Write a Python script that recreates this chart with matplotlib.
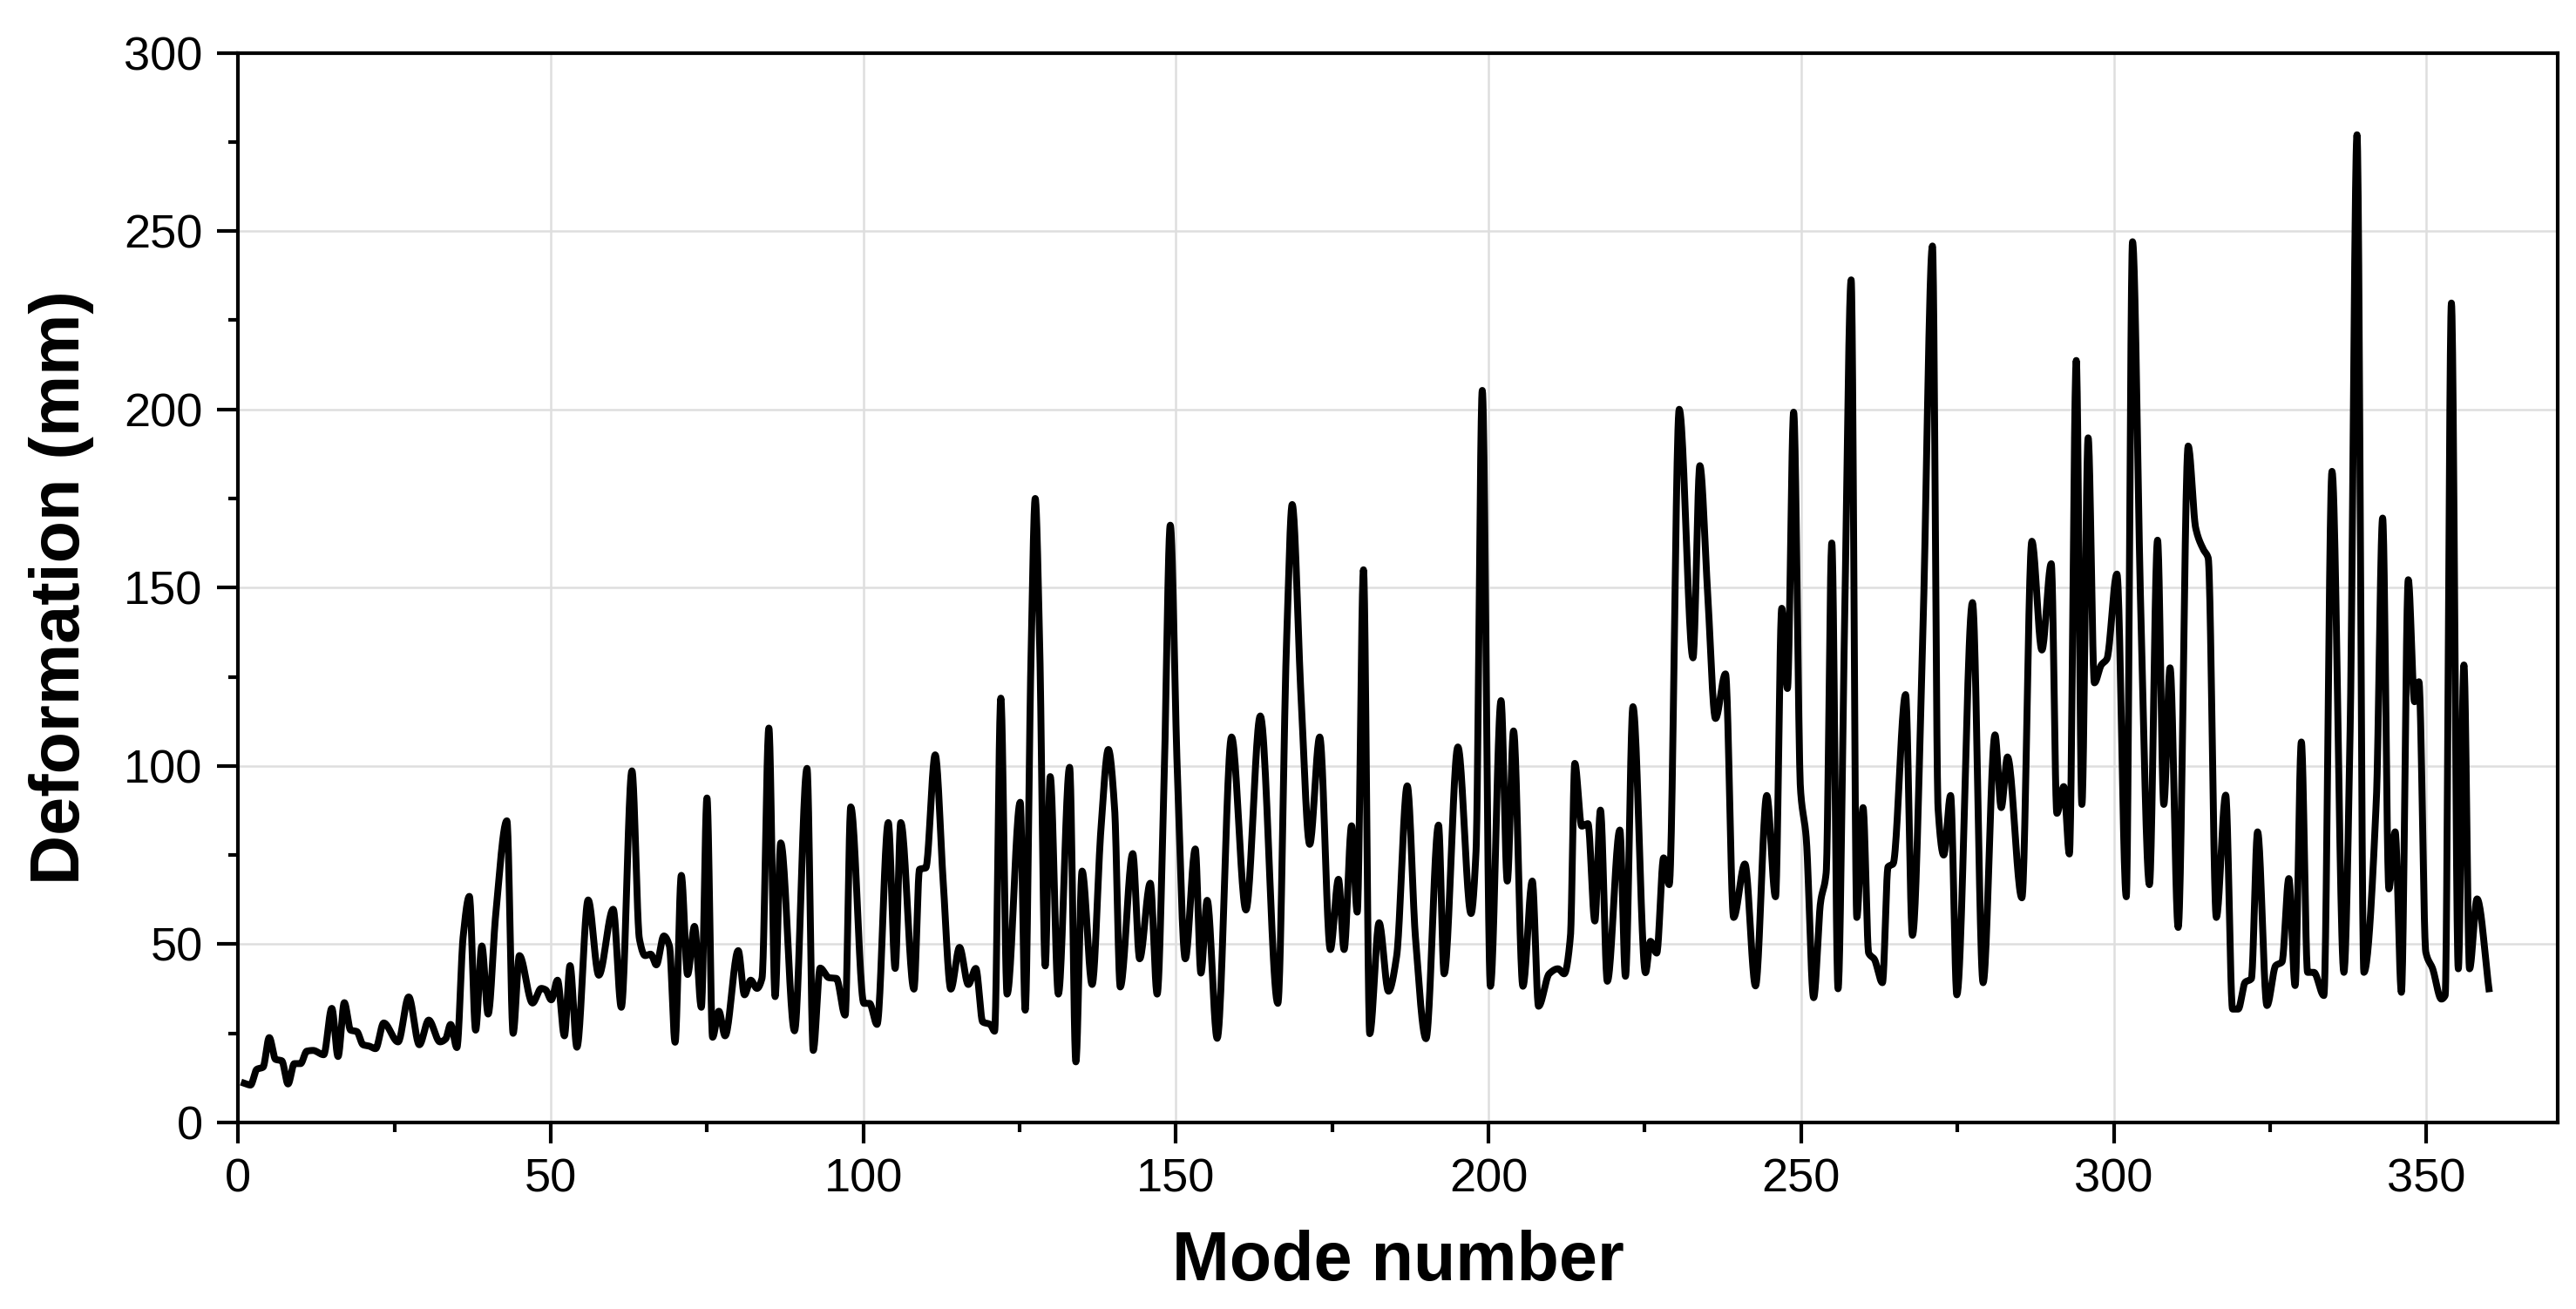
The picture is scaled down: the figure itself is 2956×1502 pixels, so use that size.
import numpy as np
import matplotlib
matplotlib.use("Agg")
import matplotlib.pyplot as plt
from matplotlib.ticker import MultipleLocator

# ---- data (mode number, deformation in mm) ----
mode = [1, 2, 3, 4, 5, 6, 7, 8, 9, 10, 11, 12, 13.7, 15, 16, 17, 18, 19, 20, 21, 22,
        23.3, 25.6, 27.3, 29, 30.5, 32.3, 33.2, 34, 35, 36, 37, 38, 39, 40, 41.2, 43,
        44, 45, 47.1, 48.5, 49.2, 50.1, 51.1, 52.2, 53.1, 54.2, 56, 57.7, 60, 61.3, 63,
        64.2, 65.1, 66, 66.9, 68.1, 69, 69.9, 70.9, 71.9, 73, 74.1, 75, 75.9, 76.9, 77.9,
        80, 81, 82, 83, 83.8, 84.9, 85.9, 86.8, 89, 91, 92, 93.1, 94.5, 95.7, 97.1, 98,
        100.1, 101, 102.2, 104, 105.1, 106, 108.1, 109, 110, 111.5, 112.8, 114, 115.4,
        116.8, 118, 119.1, 120.3, 121, 122, 123, 125.1, 125.9, 126.8, 127.5, 128.2,
        129.1, 129.9, 131.2, 133, 134, 135, 136.6, 138, 139.2, 140.2, 141.1, 143.1,
        144.2, 145.9, 147, 148.1, 149.1, 150.2, 151.5, 153.1, 154, 155, 156.6, 158.9,
        161.2, 163.5, 166.3, 167.7, 168.6, 170, 171.4, 173, 174.7, 176, 176.9, 178.1,
        179, 180, 181, 182.5, 184, 185.3, 187, 188.3, 190, 192, 192.9, 195.1, 197.2,
        198, 199, 200.3, 202, 203, 204, 205.5, 207, 208, 209.7, 211.1, 212.1, 213.1,
        213.8, 214.9, 215.9, 217, 217.9, 219, 221, 221.9, 223.1, 225.1, 225.9, 226.9,
        228, 228.9, 230.5, 232.7, 233.8, 235, 236.3, 237.9, 239.2, 241, 242.7, 244.5,
        245.9, 246.9, 247.8, 248.8, 249.9, 250.8, 252, 253.1, 254, 254.9, 255.9, 256.9,
        258, 258.9, 259.9, 260.8, 261.7, 263, 263.9, 264.7, 266.7, 267.8, 269.5, 271,
        271.9, 272.8, 273.9, 274.9, 277.4, 279.1, 281, 282, 283, 285.3, 286.9, 288.5,
        290, 290.9, 292, 292.9, 294, 294.9, 295.9, 296.9, 298, 298.9, 300.5, 302, 303,
        304.3, 305.7, 307, 308, 309, 310.3, 311.9, 313.1, 314.3, 315.1, 316.4, 317.9,
        319, 319.9, 321, 322, 323, 324.5, 325.9, 326.9, 328, 329, 330, 331, 332, 333.6,
        334.9, 336.8, 337.8, 338.9, 340, 342, 343, 344, 345, 346, 347.1, 348.1, 348.8,
        349.9, 351, 352.4, 353, 354, 355.1, 356, 356.9, 358.1, 360]

deformation = [11, 10.5, 14.9, 15.5, 23.8, 17.7, 17.3, 10.8, 16.5, 16.5, 20, 20.2, 19, 32,
               18.5, 33.6, 25.9, 25.5, 21.8, 21.4, 20.7, 27.9, 22.6, 35.2, 21.8, 28.7,
               22.6, 23.4, 27.5, 21, 52, 63.4, 25.9, 49.5, 30.4, 58, 84.6, 25, 46.8, 33.5,
               37.6, 37.2, 34.4, 39.9, 24.3, 44, 21.1, 62.4, 41.3, 59.8, 32.3, 98.6, 51.4,
               46.8, 47.2, 44.2, 52.3, 49.5, 22.5, 69.3, 41.5, 55, 32.3, 91, 23.9, 31.2,
               24.3, 48.2, 35.8, 39.9, 37.6, 40.4, 110.6, 35.3, 78.4, 25.7, 99.3, 20.2,
               43.3, 40.6, 40.4, 30.1, 88.5, 33.4, 33.4, 27.5, 84.1, 43.2, 84.1, 37.4, 71,
               71.4, 103.1, 67, 37.4, 49.1, 38.7, 43.2, 28.2, 27.5, 25.6, 119, 36, 89.8,
               31.5, 128, 175, 135, 43.9, 97, 36, 99.6, 17, 70.5, 38.7, 82, 104.6, 88, 38,
               75.4, 45.9, 67.1, 36, 95, 167.5, 100, 45.9, 76.7, 41.9, 62.3, 23.6, 108.1,
               59.6, 114, 33.4, 135, 173.3, 120, 78, 108.1, 48.5, 68.2, 48.5, 83.2, 59,
               155, 24.9, 56, 36.8, 46.6, 94.4, 52.2, 23.5, 83.4, 41.7, 105.3, 58.6, 76,
               205.3, 38.2, 118.3, 67.7, 109.8, 38.2, 67.7, 32.6, 41.7, 43.1, 41.7, 52.2,
               100.7, 83.1, 83.8, 56.5, 87.6, 39.6, 82, 41, 116.6, 42, 50.8, 47.5, 74.2,
               66.7, 200, 130.3, 184.2, 150, 113.3, 125.8, 57.5, 72.5, 38.3, 91.7, 63.3,
               144.2, 121.7, 199.2, 93.3, 80, 35, 61.7, 70, 162.5, 37.5, 135, 236.3, 57.5,
               88.3, 47.5, 45.8, 39.2, 71.7, 72.5, 120, 52.5, 140, 245.8, 88, 75, 91.7,
               35.8, 145.8, 39.2, 108.7, 88.3, 102.5, 63, 163, 132.5, 156.7, 86.7, 94.2,
               75.3, 213.7, 89.2, 192, 123.3, 128.3, 130, 153.8, 63.3, 247, 145, 66.7,
               163.3, 89.2, 127.5, 54.7, 189.7, 166.7, 160.8, 158.3, 57.5, 91.8, 31.8,
               31.8, 39.3, 40.3, 81.5, 32.8, 44, 45, 68.4, 38.4, 106.7, 42.1, 42.1, 35.6,
               182.6, 42.1, 110, 277, 42.1, 90.8, 169.5, 65.5, 81.5, 36.5, 152.2, 118,
               123.6, 47.8, 43.1, 34.6, 35.6, 229.8, 43.1, 128.3, 43.1, 62.7, 37.5]

x_ticks = [0, 50, 100, 150, 200, 250, 300, 350]
y_ticks = [0, 50, 100, 150, 200, 250, 300]
x_label = "Mode number"
y_label = "Deformation (mm)"


def smooth_line(x, y, n=24):
    """Monotone cubic (PCHIP-style) rendering of the line through the read points."""
    x = np.asarray(x, float)
    y = np.asarray(y, float)
    h = np.diff(x)
    delta = np.diff(y) / h
    d = np.zeros_like(y)
    for k in range(1, len(x) - 1):
        if delta[k - 1] * delta[k] > 0:
            w1 = 2 * h[k] + h[k - 1]
            w2 = h[k] + 2 * h[k - 1]
            d[k] = (w1 + w2) / (w1 / delta[k - 1] + w2 / delta[k])
    d[0] = delta[0]
    d[-1] = delta[-1]
    xs, ys = [], []
    t = np.linspace(0, 1, n, endpoint=False)
    h00 = 2 * t**3 - 3 * t**2 + 1
    h10 = t**3 - 2 * t**2 + t
    h01 = -2 * t**3 + 3 * t**2
    h11 = t**3 - t**2
    for k in range(len(x) - 1):
        xs.append(x[k] + t * h[k])
        ys.append(h00 * y[k] + h10 * h[k] * d[k] + h01 * y[k + 1] + h11 * h[k] * d[k + 1])
    xs.append([x[-1]])
    ys.append([y[-1]])
    return np.concatenate(xs), np.concatenate(ys)


plt.rcParams['font.family'] = ['Liberation Sans', 'DejaVu Sans']

fig = plt.figure(figsize=(2956 / 300, 1502 / 300), dpi=300)
ax = fig.add_axes([0.0924, 0.1425, 0.9005, 0.8172])

sx, sy = smooth_line(mode, deformation)
ax.plot(sx, sy, color='black', lw=1.9, solid_joinstyle='round', zorder=3)

ax.set_xlim(0, 371)
ax.set_ylim(0, 300)
ax.set_xticks(x_ticks)
ax.set_yticks(y_ticks)
ax.xaxis.set_minor_locator(MultipleLocator(25))
ax.yaxis.set_minor_locator(MultipleLocator(25))

ax.grid(True, which='major', color='#dedede', lw=0.6)
ax.set_axisbelow(True)

for s in ax.spines.values():
    s.set_linewidth(1.0)
    s.set_color('black')

ax.tick_params(which='major', direction='out', length=5.7, width=1.0,
               labelsize=13, pad=4, top=False, right=False)
ax.tick_params(which='minor', direction='out', length=2.7, width=1.0,
               top=False, right=False)

ax.set_xlabel(x_label, fontsize=19, fontweight='bold')
ax.set_ylabel(y_label, fontsize=19, fontweight='bold')
ax.xaxis.set_label_coords(0.5, -0.1)
ax.yaxis.set_label_coords(-0.062, 0.5)

fig.savefig("out.png", dpi=300, facecolor='white')
